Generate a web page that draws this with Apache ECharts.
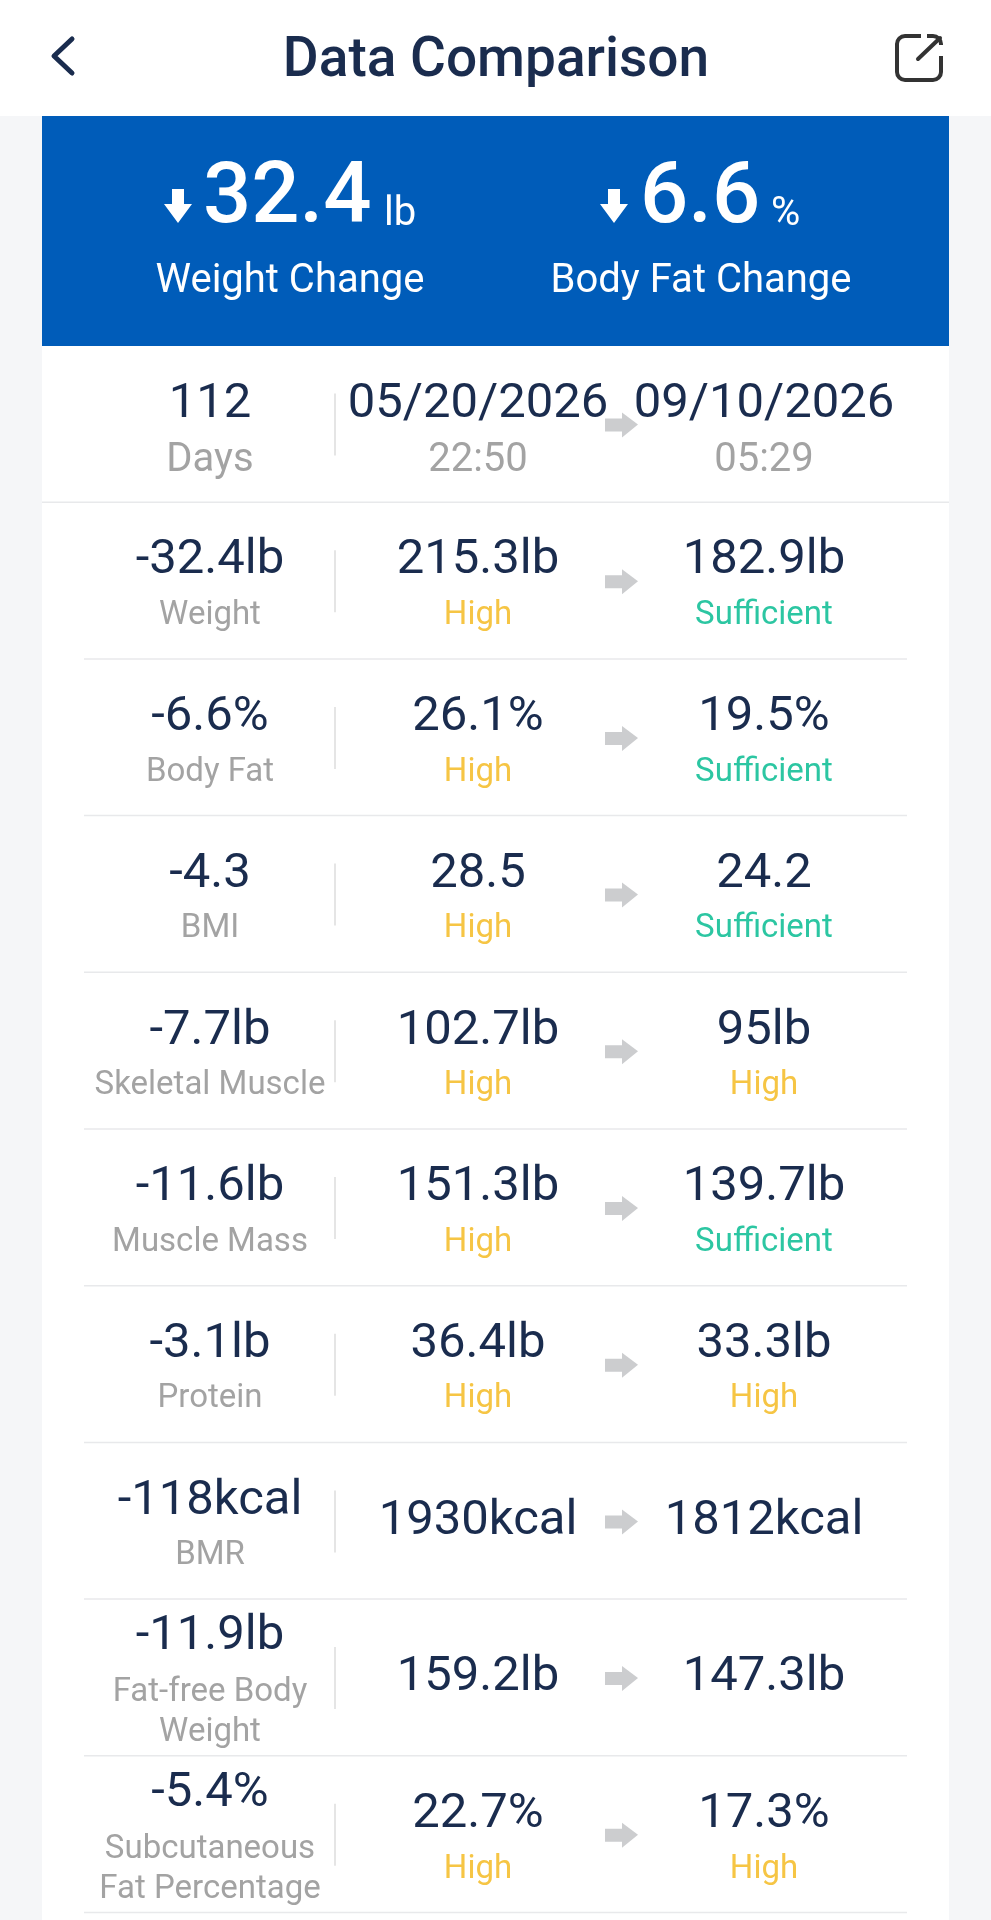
<!DOCTYPE html>
<html>
<head>
    <meta charset="utf-8">
    <title>Data Comparison</title>
    <script src="https://cdn.jsdelivr.net/npm/echarts@6/dist/echarts.min.js"></script>
    <style>
        html, body { margin: 0; padding: 0; background: #f5f6f8; }
    </style>
</head>

<body>
<div id="main" style="width:991px;height:1920px"></div>
<script type="text/javascript">
    // 数据
    var titleText = 'Data Comparison';
    var weightChange = '32.4', weightUnit = 'lb', weightLabel = 'Weight Change';
    var fatChange = '6.6', fatUnit = '%', fatLabel = 'Body Fat Change';

    var rowNames = ['Days', 'Weight', 'Body Fat', 'BMI', 'Skeletal Muscle', 'Muscle Mass', 'Protein', 'BMR',
        'Fat-free Body\nWeight', 'Subcutaneous\nFat Percentage'];
    var deltas = ['112', '-32.4lb', '-6.6%', '-4.3', '-7.7lb', '-11.6lb', '-3.1lb', '-118kcal', '-11.9lb', '-5.4%'];
    var before = ['05/20/2026', '215.3lb', '26.1%', '28.5', '102.7lb', '151.3lb', '36.4lb', '1930kcal', '159.2lb', '22.7%'];
    var after = ['09/10/2026', '182.9lb', '19.5%', '24.2', '95lb', '139.7lb', '33.3lb', '1812kcal', '147.3lb', '17.3%'];
    var beforeNotes = ['22:50', 'High', 'High', 'High', 'High', 'High', 'High', '', '', 'High'];
    var afterNotes = ['05:29', 'Sufficient', 'Sufficient', 'Sufficient', 'High', 'Sufficient', 'High', '', '', 'High'];

    var navy = '#1a2c4e', grey = '#a3a3a3', yellow = '#f6c544', green = '#2cc6a2';
    var noteColors = { 'High': yellow, 'Sufficient': green };
    var font = 'Roboto';

    // 列的位置
    var colDelta = 210, colDivider = 335, colBefore = 478, colArrow = 621, colAfter = 764;

    function label(text, x, y, size, color) {
        return {
            type: 'text',
            style: { text: text, x: x, y: y, fontFamily: font, fontSize: size, fill: color, align: 'center', verticalAlign: 'middle', lineHeight: 40 }
        };
    }

    function renderRow(params, api) {
        var i = params.dataIndex;
        var center = api.coord([0, i]);
        var band = api.size([0, 1])[1];
        var top = center[1] - band / 2;
        var twoLines = rowNames[i].indexOf('\n') >= 0;
        var hasNote = beforeNotes[i] !== '';
        var valueY = top + (hasNote ? 59 : 79);
        var noteY = top + (i === 0 ? 115 : 113.5);
        var noteSize = i === 0 ? 40 : 33; // 第一行的小字更大
        var arrowY = top + 79;
        var x = colArrow;
        var children = [
            label(deltas[i], colDelta, top + (twoLines ? 38 : 59), 49, navy),
            label(rowNames[i], colDelta, noteY, noteSize, grey),
            label(before[i], colBefore, valueY, 49, navy),
            label(after[i], colAfter, valueY, 49, navy),
            {
                type: 'line',
                shape: { x1: colDivider, y1: top + 48, x2: colDivider, y2: top + 110 },
                style: { stroke: '#dddddd', lineWidth: 1.5 }
            },
            {
                type: 'polygon',
                shape: { points: [[x - 16, arrowY - 6], [x + 1, arrowY - 6], [x + 1, arrowY - 12], [x + 17, arrowY], [x + 1, arrowY + 13], [x + 1, arrowY + 7], [x - 16, arrowY + 7]] },
                style: { fill: '#cccdcf' }
            }
        ];
        if (hasNote) {
            children.push(label(beforeNotes[i], colBefore, noteY, noteSize, noteColors[beforeNotes[i]] || grey));
            children.push(label(afterNotes[i], colAfter, noteY, noteSize, noteColors[afterNotes[i]] || grey));
        }
        // 第一行的分隔线是通栏的
        var lineLeft = i === 0 ? 42 : 84, lineRight = i === 0 ? 949 : 907;
        children.push({
            type: 'line',
            shape: { x1: lineLeft, y1: top + band, x2: lineRight, y2: top + band },
            style: { stroke: '#e8e9eb', lineWidth: 1.5 }
        });
        return { type: 'group', children: children };
    }

    function downArrow(x, y) {
        return {
            type: 'polygon',
            shape: { points: [[x - 6, y], [x + 6, y], [x + 6, y + 15], [x + 14, y + 15], [x, y + 34], [x - 14, y + 15], [x - 6, y + 15]] },
            style: { fill: '#ffffff' }
        };
    }

    function headerText(text, x, y, size, weight, align) {
        return {
            type: 'text',
            style: { text: text, x: x, y: y, fontFamily: font, fontSize: size, fontWeight: weight, fill: '#ffffff', align: align, verticalAlign: 'middle' }
        };
    }

    var myChart = echarts.init(document.getElementById('main'));
    var option = {
        animation: false,
        backgroundColor: '#f5f6f8',
        grid: { left: 0, width: 991, top: 345.5, height: 1567 },
        xAxis: { type: 'value', min: 0, max: 991, show: false },
        yAxis: { type: 'category', inverse: true, data: rowNames, show: false },
        graphic: [
            // 顶栏
            { type: 'rect', z: -1, shape: { x: 0, y: 0, width: 991, height: 116 }, style: { fill: '#ffffff' } },
            { type: 'rect', z: -1, shape: { x: 42, y: 116, width: 907, height: 230 }, style: { fill: '#005cb9' } },
            { type: 'rect', z: -1, shape: { x: 42, y: 346, width: 907, height: 1574 }, style: { fill: '#ffffff' } },
            {
                type: 'polyline',
                shape: { points: [[72, 39], [54, 56], [72, 73]] },
                style: { stroke: navy, lineWidth: 5, fill: null, lineCap: 'round', lineJoin: 'round' }
            },
            {
                type: 'text',
                style: { text: titleText, x: 496, y: 62, fontFamily: font, fontSize: 55, fontWeight: 500, fill: navy, align: 'center', verticalAlign: 'middle' }
            },
            // 分享图标：圆角方框，上边和右边各留一个缺口
            {
                type: 'rect',
                shape: { x: 897, y: 36, width: 44, height: 44, r: 8 },
                style: { stroke: '#333333', lineWidth: 4, fill: null }
            },
            { type: 'line', shape: { x1: 921, y1: 36, x2: 927, y2: 36 }, style: { stroke: '#ffffff', lineWidth: 7 } },
            { type: 'line', shape: { x1: 941, y1: 45, x2: 941, y2: 56 }, style: { stroke: '#ffffff', lineWidth: 7 } },
            { type: 'line', shape: { x1: 918, y1: 59, x2: 940, y2: 38 }, style: { stroke: '#333333', lineWidth: 4, lineCap: 'round' } },
            // 变化概览
            downArrow(178, 189),
            headerText(weightChange, 203, 201, 85, 500, 'left'),
            headerText(weightUnit, 384, 215, 40, 'normal', 'left'),
            headerText(weightLabel, 290, 282, 40, 'normal', 'center'),
            downArrow(614, 189),
            headerText(fatChange, 640, 201, 85, 500, 'left'),
            headerText(fatUnit, 771, 215, 40, 'normal', 'left'),
            headerText(fatLabel, 701, 282, 40, 'normal', 'center')
        ],
        series: [{
            type: 'custom',
            coordinateSystem: 'cartesian2d',
            renderItem: renderRow,
            encode: { y: 0 },
            clip: false,
            data: rowNames.map(function (name, i) { return [i]; })
        }]
    };
    myChart.setOption(option);
</script>
</body>
</html>
